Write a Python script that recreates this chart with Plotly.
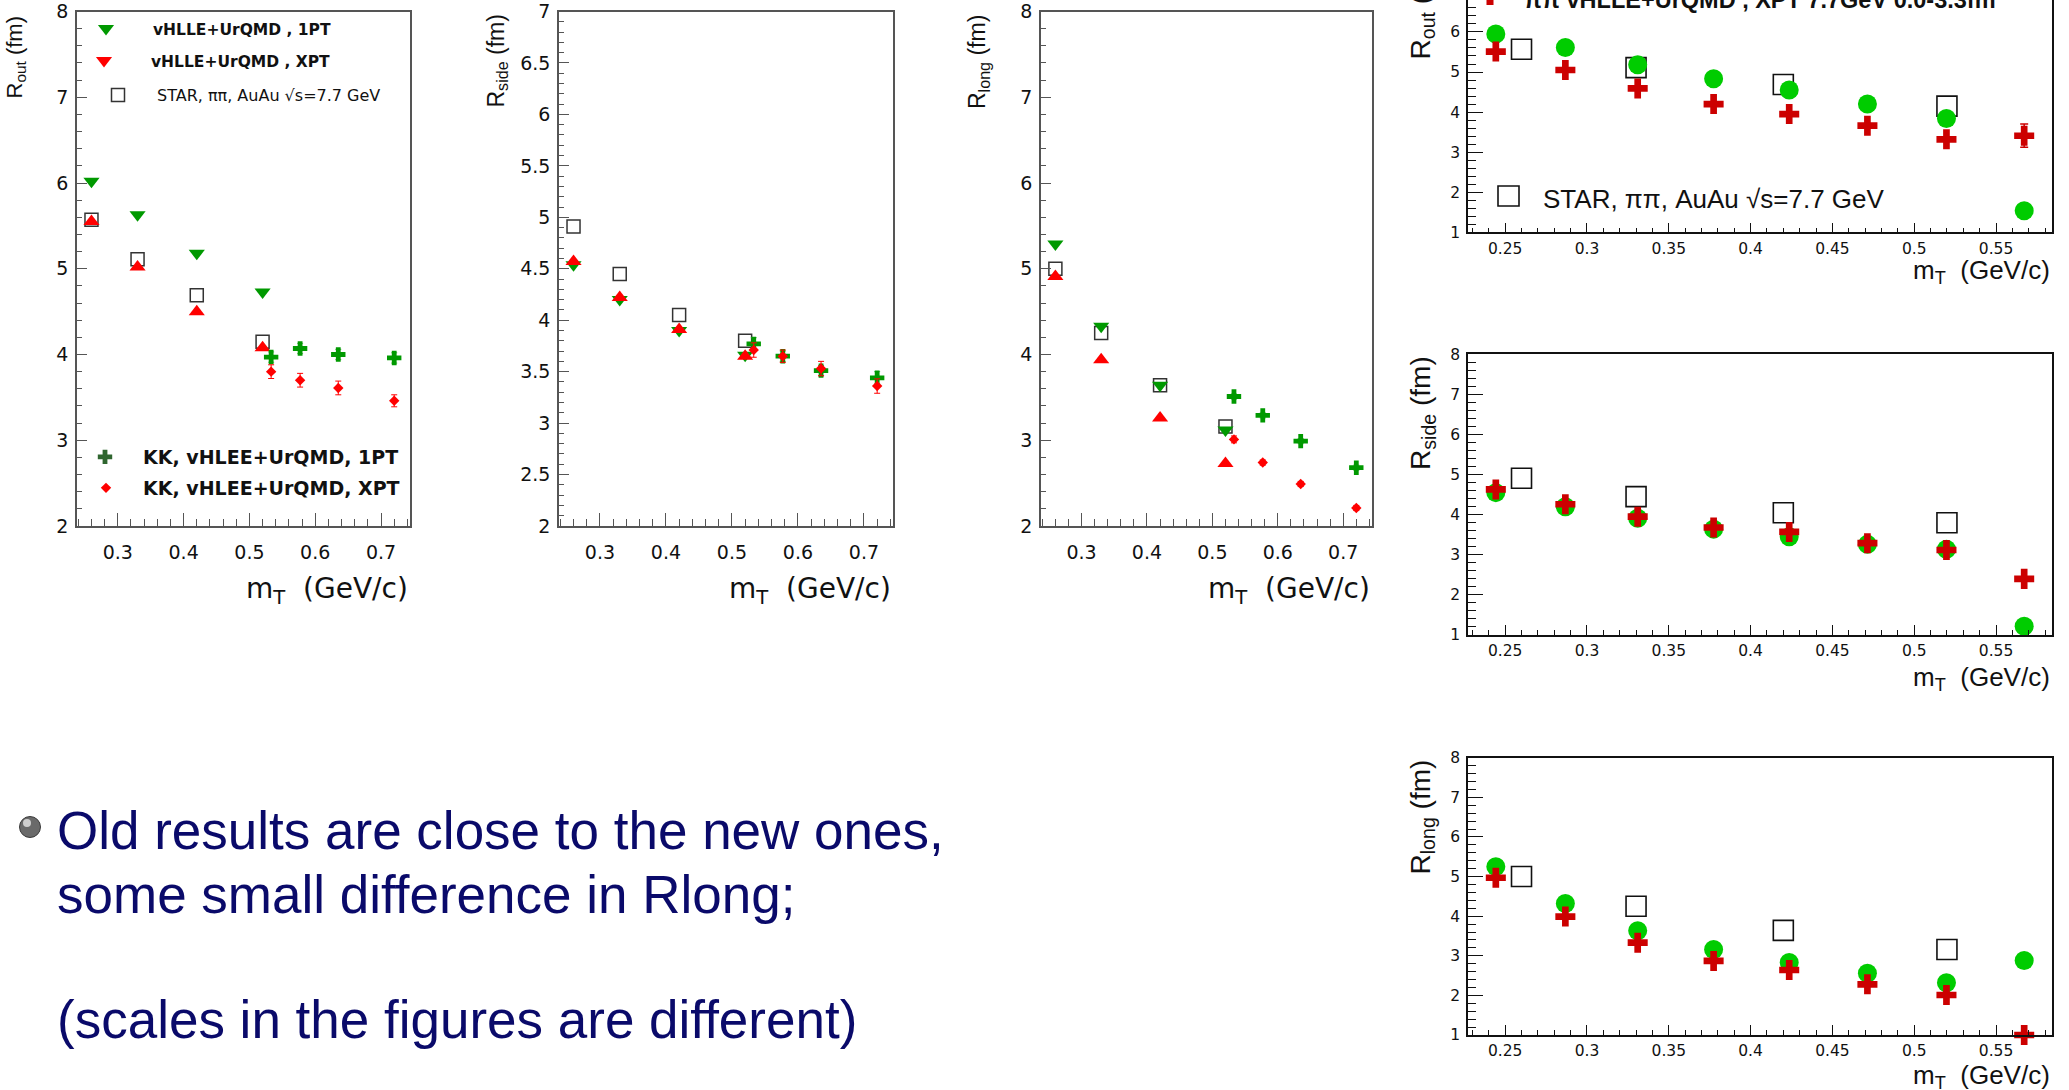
import plotly.graph_objects as go

FIG_W, FIG_H = 2069, 1090


def fx(px):
    return px / FIG_W


def fy(px):
    return 1 - px / FIG_H


# ---------------- data ----------------
# transverse-mass bins (GeV/c)
mt_star = [0.26, 0.33, 0.42, 0.52]
mt_pi_old = [0.26, 0.33, 0.42, 0.52]
mt_kk = [0.533, 0.577, 0.635, 0.72]
mt_pi_new = [0.2443, 0.2868, 0.331, 0.3774, 0.4236, 0.4714, 0.5197, 0.5672]

# STAR, pi-pi, AuAu sqrt(s)=7.7 GeV
star_rout = [5.57, 5.11, 4.69, 4.15]
star_rside = [4.91, 4.45, 4.05, 3.80]
star_rlong = [5.00, 4.25, 3.64, 3.16]

# pions, vHLLE+UrQMD (1PT / XPT)
pi_rout_1pt = [6.02, 5.63, 5.18, 4.73]
pi_rout_xpt = [5.55, 5.02, 4.50, 4.08]
pi_rside_1pt = [4.54, 4.20, 3.90, 3.66]
pi_rside_xpt = [4.57, 4.22, 3.91, 3.65]
pi_rlong_1pt = [5.29, 4.33, 3.64, 3.12]
pi_rlong_xpt = [4.91, 3.94, 3.26, 2.73]

# kaons, vHLLE+UrQMD (1PT / XPT)
kk_rout_1pt = [3.97, 4.07, 4.00, 3.96]
kk_rout_xpt = [3.80, 3.70, 3.61, 3.46]
kk_rside_1pt = [3.77, 3.65, 3.51, 3.44]
kk_rside_xpt = [3.71, 3.65, 3.53, 3.36]
kk_rlong_1pt = [3.51, 3.29, 2.99, 2.68]
kk_rlong_xpt = [3.01, 2.74, 2.49, 2.21]
kk_rout_1pt_err = [0.06, 0.06, 0.06, 0.06]
kk_rout_xpt_err = [0.08, 0.08, 0.08, 0.07]
kk_rside_1pt_err = [0.06, 0.05, 0.05, 0.06]
kk_rside_xpt_err = [0.07, 0.06, 0.07, 0.07]
kk_rlong_1pt_err = [0.03, 0.03, 0.03, 0.03]
kk_rlong_xpt_err = [0.04, 0.03, 0.03, 0.03]

# pions, vHLLE+UrQMD 7.7 GeV 0.0-3.3 fm (new runs)
new_rout_1pt = [5.95, 5.61, 5.18, 4.83, 4.55, 4.20, 3.84, 1.54]
new_rout_xpt = [5.51, 5.05, 4.59, 4.20, 3.95, 3.66, 3.32, 3.41]
new_rout_xpt_err = [0, 0, 0, 0, 0, 0, 0, 0.29]
new_rside_1pt = [4.55, 4.20, 3.91, 3.64, 3.45, 3.26, 3.14, 1.22]
new_rside_xpt = [4.63, 4.26, 3.95, 3.68, 3.57, 3.29, 3.12, 2.40]
new_rlong_1pt = [5.25, 4.32, 3.63, 3.16, 2.83, 2.56, 2.32, 2.88]
new_rlong_xpt = [4.97, 3.99, 3.33, 2.87, 2.64, 2.28, 2.01, 1.00]

# ---------------- styling ----------------
GREEN = "#009900"
RED = "#ff0000"
GREEN_NEW = "#00cc00"
RED_NEW = "#cc0000"
KK_LEG_GREEN = "#2f662f"
TEXT_BLUE = "#0a0a6a"

LEFT_FONT = "DejaVu Sans"
RIGHT_FONT = "Liberation Sans, Arial, sans-serif"

fig = go.Figure()

# ---- left column: three radii, pions + kaons ----
left_panels = [
    ("x", "y", pi_rout_1pt, pi_rout_xpt, star_rout, kk_rout_1pt, kk_rout_xpt,
     kk_rout_1pt_err, kk_rout_xpt_err),
    ("x2", "y2", pi_rside_1pt, pi_rside_xpt, star_rside, kk_rside_1pt, kk_rside_xpt,
     kk_rside_1pt_err, kk_rside_xpt_err),
    ("x3", "y3", pi_rlong_1pt, pi_rlong_xpt, star_rlong, kk_rlong_1pt, kk_rlong_xpt,
     kk_rlong_1pt_err, kk_rlong_xpt_err),
]

for xa, ya, r1, rx, rs, k1, kx, k1e, kxe in left_panels:
    fig.add_trace(go.Scatter(
        x=mt_star, y=rs, xaxis=xa, yaxis=ya, mode="markers", showlegend=False,
        marker=dict(symbol="square-open", size=13, color="#333333",
                    line=dict(width=1.5, color="#333333"))))
    fig.add_trace(go.Scatter(
        x=mt_pi_old, y=r1, xaxis=xa, yaxis=ya, mode="markers", showlegend=False,
        marker=dict(symbol="triangle-down", size=14, color=GREEN)))
    fig.add_trace(go.Scatter(
        x=mt_pi_old, y=rx, xaxis=xa, yaxis=ya, mode="markers", showlegend=False,
        marker=dict(symbol="triangle-up", size=14, color=RED)))
    fig.add_trace(go.Scatter(
        x=mt_kk, y=k1, xaxis=xa, yaxis=ya, mode="markers", showlegend=False,
        error_y=dict(type="data", array=k1e, color="#66bb66", thickness=1, width=3),
        marker=dict(symbol="cross", size=12, color=GREEN)))
    fig.add_trace(go.Scatter(
        x=mt_kk, y=kx, xaxis=xa, yaxis=ya, mode="markers", showlegend=False,
        error_y=dict(type="data", array=kxe, color=RED, thickness=1, width=3),
        marker=dict(symbol="diamond", size=8, color=RED)))

# ---- right column: new pion runs ----
right_panels = [
    ("x4", "y4", new_rout_1pt, new_rout_xpt, new_rout_xpt_err, star_rout),
    ("x5", "y5", new_rside_1pt, new_rside_xpt, None, star_rside),
    ("x6", "y6", new_rlong_1pt, new_rlong_xpt, None, star_rlong),
]
for xa, ya, g, r, rerr, rs in right_panels:
    fig.add_trace(go.Scatter(
        x=mt_star, y=rs, xaxis=xa, yaxis=ya, mode="markers", showlegend=False,
        cliponaxis=False,
        marker=dict(symbol="square-open", size=20, color="#111111",
                    line=dict(width=1.6, color="#111111"))))
    fig.add_trace(go.Scatter(
        x=mt_pi_new, y=g, xaxis=xa, yaxis=ya, mode="markers", showlegend=False,
        cliponaxis=False,
        marker=dict(symbol="circle", size=19, color=GREEN_NEW)))
    err = None
    if rerr is not None:
        err = dict(type="data", array=rerr, color=RED_NEW, thickness=1.5, width=4)
    fig.add_trace(go.Scatter(
        x=mt_pi_new, y=r, xaxis=xa, yaxis=ya, mode="markers", showlegend=False,
        cliponaxis=False, error_y=err,
        marker=dict(symbol="cross", size=16.7, color=RED_NEW)))

# ---- legend entries of the first panel ----
legend_items = [
    ("legend", "vHLLE+UrQMD , 1PT", dict(symbol="triangle-down", size=14, color=GREEN)),
    ("legend2", "vHLLE+UrQMD , XPT", dict(symbol="triangle-down", size=14, color=RED)),
    ("legend3", "STAR, \u03c0\u03c0, AuAu \u221as=7.7 GeV",
     dict(symbol="square-open", size=13, color="#333333", line=dict(width=1.5, color="#333333"))),
    ("legend4", "KK, vHLEE+UrQMD, 1PT", dict(symbol="cross", size=12, color=KK_LEG_GREEN)),
    ("legend5", "KK, vHLEE+UrQMD, XPT", dict(symbol="diamond", size=8, color=RED)),
]
for lg, name, mk in legend_items:
    fig.add_trace(go.Scatter(x=[None], y=[None], xaxis="x", yaxis="y", mode="markers",
                             name=name, legend=lg, marker=mk, showlegend=True))


def legend_cfg(sym_x, sym_y, gap, size, bold):
    iw = 2 * (gap - 5)
    return dict(x=fx(sym_x - iw / 2 - 5), y=fy(sym_y), xanchor="left", yanchor="middle",
                bgcolor="rgba(0,0,0,0)", borderwidth=0, itemwidth=iw,
                itemclick=False, itemdoubleclick=False,
                font=dict(family=LEFT_FONT, size=size, color="#111111",
                          weight="bold" if bold else "normal"))


# ---- axes ----
def left_x(domain, anchor):
    return dict(domain=domain, anchor=anchor, range=[0.238, 0.744], tick0=0, dtick=0.1,
                ticks="inside", ticklen=13, tickwidth=1.2, tickcolor="#555555",
                minor=dict(tick0=0, dtick=0.02, ticks="inside", ticklen=7,
                           tickwidth=1, tickcolor="#555555"),
                showline=True, linecolor="#555555", linewidth=1.5, mirror=True,
                showgrid=False, zeroline=False, ticklabelstandoff=8,
                tickfont=dict(family=LEFT_FONT, size=19, color="#111111"))


def left_y(domain, anchor, rng, dtick, minor_dtick):
    return dict(domain=domain, anchor=anchor, range=rng, tick0=0, dtick=dtick,
                ticks="inside", ticklen=10, tickwidth=1.2, tickcolor="#555555",
                minor=dict(tick0=0, dtick=minor_dtick, ticks="inside", ticklen=5,
                           tickwidth=1, tickcolor="#555555"),
                showline=True, linecolor="#555555", linewidth=1.5, mirror=True,
                showgrid=False, zeroline=False, ticklabelstandoff=3,
                tickfont=dict(family=LEFT_FONT, size=19, color="#111111"))


def right_x(domain, anchor, mirror=True):
    return dict(domain=domain, anchor=anchor, range=[0.2273, 0.5842], tick0=0, dtick=0.05,
                ticks="inside", ticklen=10, tickwidth=1.3, tickcolor="#111111",
                minor=dict(tick0=0, dtick=0.01, ticks="inside", ticklen=5,
                           tickwidth=1.1, tickcolor="#111111"),
                showline=True, linecolor="#111111", linewidth=1.5, mirror=mirror,
                showgrid=False, zeroline=False, ticklabelstandoff=1,
                tickfont=dict(family=LEFT_FONT, size=15.5, color="#111111"))


def right_y(domain, anchor, rng):
    return dict(domain=domain, anchor=anchor, range=rng, tick0=0, dtick=1,
                ticks="inside", ticklen=15, tickwidth=1.3, tickcolor="#111111",
                minor=dict(tick0=0, dtick=0.2, ticks="inside", ticklen=8,
                           tickwidth=1.1, tickcolor="#111111"),
                showline=True, linecolor="#111111", linewidth=1.5, mirror=True,
                showgrid=False, zeroline=False, ticklabelstandoff=3,
                tickfont=dict(family=LEFT_FONT, size=15.5, color="#111111"))


left_ydom = [fy(526), fy(11.5)]
right_xdom = [fx(1468), fx(2052)]

layout = dict(
    width=FIG_W, height=FIG_H,
    margin=dict(l=0, r=0, t=0, b=0, autoexpand=False),
    paper_bgcolor="white", plot_bgcolor="white",
    xaxis=left_x([fx(77), fx(410)], "y"),
    yaxis=left_y(left_ydom, "x", [2, 8], 1, 0.2),
    xaxis2=left_x([fx(559), fx(893)], "y2"),
    yaxis2=left_y(left_ydom, "x2", [2, 7], 0.5, 0.1),
    xaxis3=left_x([fx(1041), fx(1372)], "y3"),
    yaxis3=left_y(left_ydom, "x3", [2, 8], 1, 0.2),
    xaxis4=right_x(right_xdom, "y4", mirror=False),
    yaxis4=right_y([fy(232.3), 1.0], "x4", [1, 1 + 232.3 / 40.07]),
    xaxis5=right_x(right_xdom, "y5"),
    yaxis5=right_y([fy(635), fy(354.3)], "x5", [1, 8]),
    xaxis6=right_x(right_xdom, "y6"),
    yaxis6=right_y([fy(1035), fy(757.7)], "x6", [1, 8]),
    legend=legend_cfg(106, 29, 47, 15.5, True),
    legend2=legend_cfg(104, 61, 47, 15.5, True),
    legend3=legend_cfg(118, 95, 39, 16, False),
    legend4=legend_cfg(105, 457, 38, 19, True),
    legend5=legend_cfg(106, 488, 37, 19, True),
)
fig.update_layout(**layout)

annotations = []


def ann(text, x, y, xanchor, yanchor, family, size, color="#111111", angle=0, **kw):
    annotations.append(dict(text=text, x=x, y=y, xref="paper", yref="paper",
                            xanchor=xanchor, yanchor=yanchor, showarrow=False,
                            textangle=angle,
                            font=dict(family=family, size=size, color=color, **kw)))


# axis titles, left column
ann("R<sub>out</sub> (fm)", fx(15), fy(14), "center", "top", RIGHT_FONT, 22, angle=-90)
ann("R<sub>side</sub> (fm)", fx(497), fy(13), "center", "top", RIGHT_FONT, 23, angle=-90)
ann("R<sub>long</sub> (fm)", fx(979), fy(13), "center", "top", RIGHT_FONT, 23, angle=-90)
for right_px in (410, 893, 1372):
    ann("m<sub>T</sub>\u00a0 (GeV/c)", fx(right_px), fy(591), "right", "middle", LEFT_FONT, 28)

# axis titles, right column
ann("R<sub>out</sub> (fm)", fx(1422), fy(62), "center", "bottom", RIGHT_FONT, 28, angle=-90)
ann("R<sub>side</sub> (fm)", fx(1422), fy(472), "center", "bottom", RIGHT_FONT, 28, angle=-90)
ann("R<sub>long</sub> (fm)", fx(1422), fy(877), "center", "bottom", RIGHT_FONT, 28, angle=-90)
for cy in (271, 678, 1076):
    ann("m<sub>T</sub>\u00a0 (GeV/c)", fx(2052), fy(cy), "right", "middle", RIGHT_FONT, 26)

# right-column legend texts
ann("<b>\u03c0\u03c0 vHLLE+UrQMD , XPT 7.7GeV 0.0-3.3fm</b>", fx(1522), 1.0, "left", "middle",
    RIGHT_FONT, 23.5)
ann("STAR, \u03c0\u03c0, AuAu \u221as=7.7 GeV", fx(1541), fy(199), "left", "middle", RIGHT_FONT, 26)

# bullet text
ann("Old results are close to the new ones,", fx(55), fy(830), "left", "middle",
    RIGHT_FONT, 53, color=TEXT_BLUE)
ann("some small difference in Rlong;", fx(55), fy(894), "left", "middle",
    RIGHT_FONT, 53, color=TEXT_BLUE)
ann("(scales in the figures are different)", fx(55), fy(1019), "left", "middle",
    RIGHT_FONT, 53, color=TEXT_BLUE)

fig.update_layout(annotations=annotations)

# legend swatches of the right column and the bullet
shapes = []


def cross_path(cx, cy, full, arm):
    h, a = full / 2, arm / 2
    pts = [(a, h), (a, a), (h, a), (h, -a), (a, -a), (a, -h), (-a, -h), (-a, -a),
           (-h, -a), (-h, a), (-a, a), (-a, h)]
    return "M " + " L ".join(f"{fx(cx + dx):.5f},{fy(cy + dy):.5f}" for dx, dy in pts) + " Z"


shapes.append(dict(type="path", xref="paper", yref="paper",
                   path=cross_path(1490, -5, 20, 7), fillcolor=RED_NEW,
                   line=dict(width=0)))
shapes.append(dict(type="rect", xref="paper", yref="paper",
                   x0=fx(1498), x1=fx(1519), y0=fy(206), y1=fy(186),
                   line=dict(color="#111111", width=1.6)))
shapes.append(dict(type="circle", xref="paper", yref="paper",
                   x0=fx(19.5), x1=fx(40.5), y0=fy(837.5), y1=fy(816.5),
                   fillcolor="#6a6a6a", line=dict(color="#3a3a3a", width=1)))
shapes.append(dict(type="circle", xref="paper", yref="paper",
                   x0=fx(23), x1=fx(31), y0=fy(827), y1=fy(819),
                   fillcolor="#d9d9d9", line=dict(width=0), opacity=0.9))
fig.update_layout(shapes=shapes)

fig.write_html("out.html")
